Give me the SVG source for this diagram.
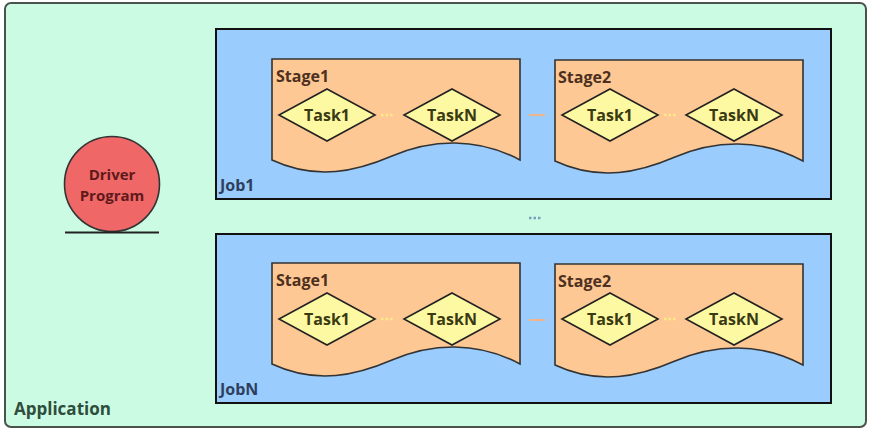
<svg xmlns="http://www.w3.org/2000/svg" width="871" height="434" viewBox="0 0 871 434">
<defs>
<style>
text{font-family:"Open Sans","Noto Sans","Liberation Sans",sans-serif;font-weight:bold;}
.app{fill:#cbfce3;stroke:#4a524c;stroke-width:2;}
.job{fill:#9accfd;stroke:#111;stroke-width:2;}
.stage{fill:#fdc894;stroke:#333;stroke-width:1.6;}
.task{fill:#fdf9a2;stroke:#222;stroke-width:1.6;}
.tt{font-size:16px;fill:#3a3a12;text-anchor:middle;}
.st{font-size:16px;fill:#4d3020;}
.jt{font-size:16px;fill:#2e3f5e;}
.dt{font-size:15px;fill:#5e1a1a;text-anchor:middle;}
.ydots{stroke:#ffe98a;stroke-width:2.5;stroke-dasharray:2.5 2;}
.odash{stroke:#f2b487;stroke-width:2;}
.bdots{stroke:#7d9db8;stroke-width:2.5;stroke-dasharray:2.5 2;}
</style>
<path id="stageShape" d="M0,0 H248 V101 C205,78 160,80 120,97 C85,112 45,122 0,101 Z"/>
<polygon id="diamond" points="0,-26 48,0 0,26 -48,0"/>
</defs>
<g id="application">
<rect class="app" x="5" y="3" width="861" height="424" rx="6"/>
<text x="14" y="415" style="font-size:17px;fill:#2f4d3c">Application</text>
</g>
<g id="driver">
<circle cx="112" cy="184" r="47.5" fill="#f06767" stroke="#333" stroke-width="1.6"/>
<line x1="65" y1="232.5" x2="159" y2="232.5" stroke="#222" stroke-width="2"/>
<text class="dt" x="112" y="180">Driver</text>
<text class="dt" x="112" y="201">Program</text>
</g>
<g id="job1">
<rect class="job" x="216" y="29" width="615" height="170"/>
<text class="jt" x="220" y="191">Job1</text>
</g>
<g id="job1-stage1">
<use href="#stageShape" class="stage" x="272" y="59"/>
<text class="st" x="276" y="82">Stage1</text>
</g>
<g id="job1-stage1-task1"><use href="#diamond" class="task" x="327" y="115"/><text class="tt" x="327" y="121">Task1</text></g>
<g id="job1-stage1-taskN"><use href="#diamond" class="task" x="452" y="115"/><text class="tt" x="452" y="121">TaskN</text></g>
<g id="job1-stage2">
<use href="#stageShape" class="stage" x="555" y="60"/>
<text class="st" x="558" y="83">Stage2</text>
</g>
<g id="job1-stage2-task1"><use href="#diamond" class="task" x="610" y="115"/><text class="tt" x="610" y="121">Task1</text></g>
<g id="job1-stage2-taskN"><use href="#diamond" class="task" x="734" y="115"/><text class="tt" x="734" y="121">TaskN</text></g>
<g id="jobN">
<rect class="job" x="216" y="234" width="615" height="169"/>
<text class="jt" x="220" y="395">JobN</text>
</g>
<g id="jobN-stage1">
<use href="#stageShape" class="stage" x="272" y="263"/>
<text class="st" x="276" y="286">Stage1</text>
</g>
<g id="jobN-stage1-task1"><use href="#diamond" class="task" x="327" y="319"/><text class="tt" x="327" y="325">Task1</text></g>
<g id="jobN-stage1-taskN"><use href="#diamond" class="task" x="452" y="319"/><text class="tt" x="452" y="325">TaskN</text></g>
<g id="jobN-stage2">
<use href="#stageShape" class="stage" x="555" y="264"/>
<text class="st" x="558" y="287">Stage2</text>
</g>
<g id="jobN-stage2-task1"><use href="#diamond" class="task" x="610" y="319"/><text class="tt" x="610" y="325">Task1</text></g>
<g id="jobN-stage2-taskN"><use href="#diamond" class="task" x="734" y="319"/><text class="tt" x="734" y="325">TaskN</text></g>
<g id="connectors">
<line class="ydots" x1="381" y1="115" x2="394" y2="115"/>
<line class="ydots" x1="664" y1="115" x2="677" y2="115"/>
<line class="ydots" x1="381" y1="319" x2="394" y2="319"/>
<line class="ydots" x1="664" y1="319" x2="677" y2="319"/>
<line class="odash" x1="529" y1="115" x2="545" y2="115"/>
<line class="odash" x1="529" y1="320" x2="545" y2="320"/>
<line class="bdots" x1="529" y1="218" x2="542" y2="218"/>
</g>
</svg>
